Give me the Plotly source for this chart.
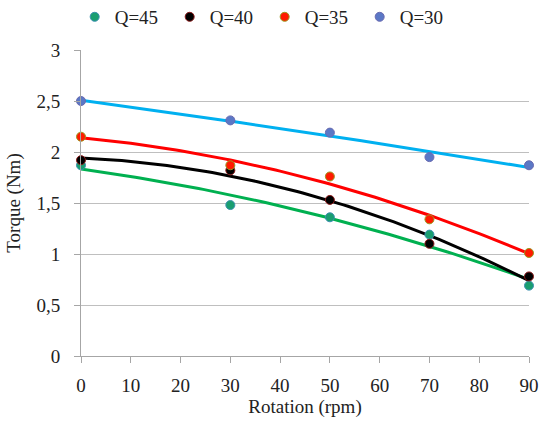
import numpy as np
import plotly.graph_objects as go

rotation = [0, 30, 50, 70, 90]
series_names = ["Q=45", "Q=40", "Q=35", "Q=30"]
q45 = [1.87, 1.48, 1.36, 1.19, 0.69]
q40 = [1.92, 1.82, 1.53, 1.10, 0.78]
q35 = [2.15, 1.87, 1.76, 1.34, 1.01]
q30 = [2.50, 2.31, 2.19, 1.95, 1.87]
y_ticks = [0, 0.5, 1, 1.5, 2, 2.5, 3]
x_ticks = [0, 10, 20, 30, 40, 50, 60, 70, 80, 90]

marker_colors = ["#1a9e70", "#000000", "#ff1a00", "#5b78c6"]
marker_lines = ["#3b8fb0", "#8b1a1a", "#9a9a20", "#6a6ab0"]
line_colors = ["#00b050", "#000000", "#ff0000", "#00b0f0"]

fig = go.Figure()
xs = np.linspace(min(rotation), max(rotation), 100)
for name, ys, mc, ml, lc in zip(series_names, [q45, q40, q35, q30], marker_colors, marker_lines, line_colors):
    coef = np.polyfit(rotation, ys, 2)
    fig.add_trace(go.Scatter(x=xs, y=np.polyval(coef, xs), mode="lines",
                             line=dict(color=lc, width=3), showlegend=False,
                             hoverinfo="skip", cliponaxis=False))
for name, ys, mc, ml, lc in zip(series_names, [q45, q40, q35, q30], marker_colors, marker_lines, line_colors):
    fig.add_trace(go.Scatter(x=rotation, y=ys, mode="markers", name=name,
                             marker=dict(color=mc, size=9, line=dict(color=ml, width=1)),
                             cliponaxis=False))

font = "Liberation Serif, Times New Roman, Times, serif"
fig.update_layout(
    width=539, height=426,
    margin=dict(l=81, r=10, t=50, b=70, autoexpand=False),
    paper_bgcolor="white", plot_bgcolor="white",
    separators=", ",
    font=dict(family=font, size=19, color="#222222"),
    legend=dict(orientation="h", x=0.41, xanchor="center", y=1.108, yanchor="middle",
                font=dict(family=font, size=19), itemwidth=30, tracegroupgap=0,
                entrywidth=50, entrywidthmode="pixels"),
    xaxis=dict(range=[0, 90], tickvals=x_ticks, showgrid=False, showline=True,
               linecolor="#a6a6a6", linewidth=1, ticks="outside", ticklen=6,
               tickcolor="#a6a6a6", ticklabelstandoff=6, zeroline=False, automargin=False,
               tickfont=dict(family=font, size=19),
               title=dict(text="Rotation (rpm)", standoff=4, font=dict(family=font, size=19))),
    yaxis=dict(range=[0, 3], tickvals=y_ticks, showgrid=True, gridcolor="#bfbfbf",
               showline=True, linecolor="#a6a6a6", linewidth=1, ticks="outside",
               ticklen=6, tickcolor="#a6a6a6", ticklabelstandoff=10, zeroline=False, automargin=False,
               tickfont=dict(family=font, size=19),
               title=dict(text="Torque (Nm)", standoff=10, font=dict(family=font, size=19))),
)
fig.write_html("out.html", config={"displayModeBar": False},
               post_script="document.body.style.margin='0';")
